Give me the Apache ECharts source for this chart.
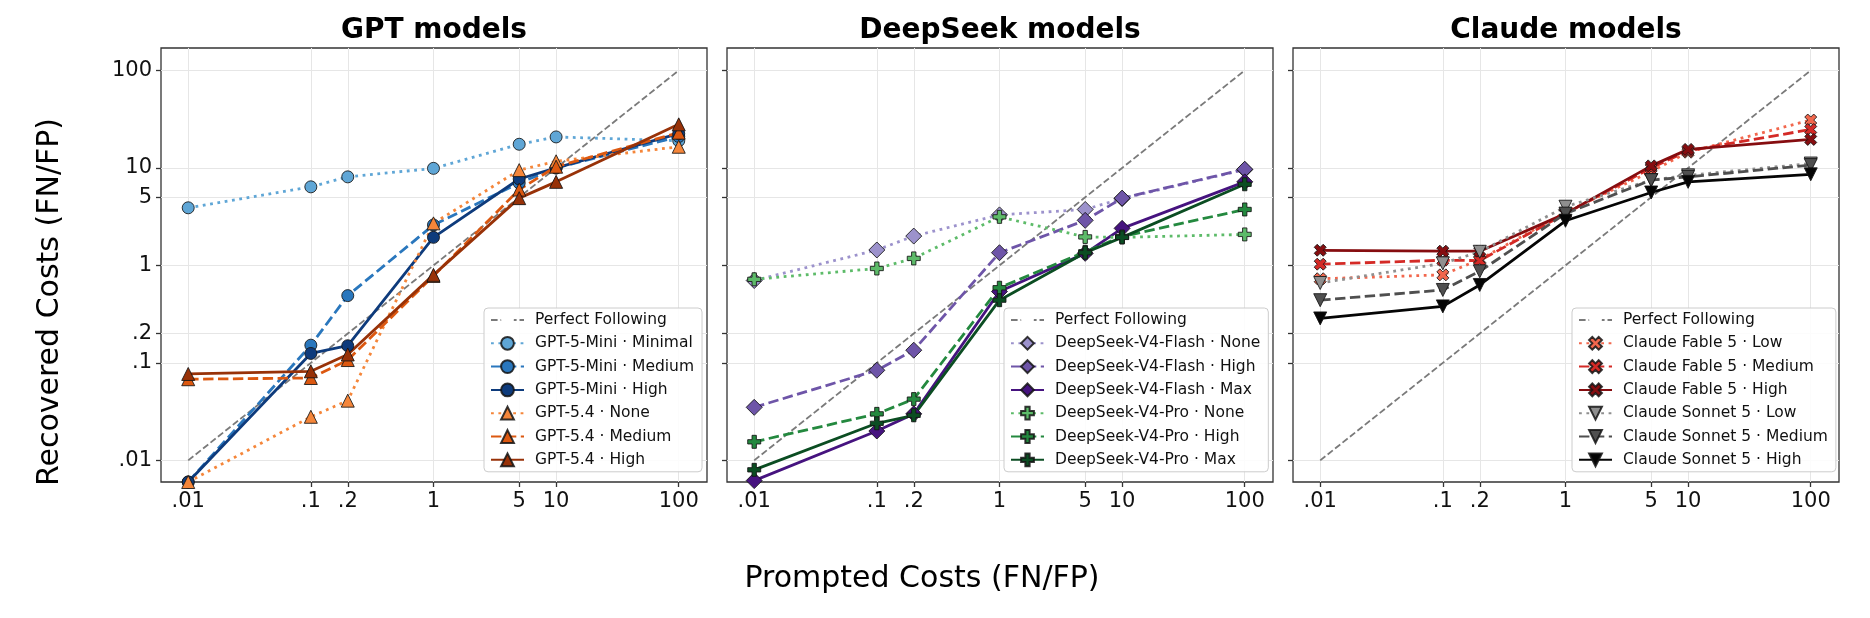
<!DOCTYPE html>
<html>
<head>
<meta charset="utf-8">
<title>Recovered vs prompted costs</title>
<script src="https://cdn.jsdelivr.net/npm/echarts@6.0.0/dist/echarts.min.js"></script>
<style>
  html, body { margin: 0; padding: 0; background: #fff; }
  #chart { width: 1870px; height: 618px; }
</style>
</head>
<body>
<div id="chart"></div>
<script>
// x positions shared by every series
const promptedCosts = [0.01, 0.1, 0.2, 1, 5, 10, 100];
const tickValues = [0.01, 0.1, 0.2, 1, 5, 10, 100];
const tickLabels = ['.01', '.1', '.2', '1', '5', '10', '100'];
const perfectFollowing = [0.01, 0.1, 0.2, 1, 5, 10, 100];
const panelTitles = ['GPT models', 'DeepSeek models', 'Claude models'];

// GPT
const gpt5MiniMinimal = [3.9, 6.4, 8.1, 9.9, 17.5, 20.8, 19.0];
const gpt5MiniMedium = [0.006, 0.152, 0.49, 2.6, 7.0, 10.0, 21.0];
const gpt5MiniHigh = [0.006, 0.125, 0.15, 1.94, 7.7, 10.0, 22.5];
const gpt54None = [0.006, 0.028, 0.041, 2.7, 9.5, 11.7, 16.5];
const gpt54Medium = [0.068, 0.070, 0.107, 0.78, 6.0, 10.3, 23.0];
const gpt54High = [0.077, 0.082, 0.122, 0.80, 4.9, 7.2, 28.0];

// DeepSeek
const flashNone = [0.70, 1.44, 2.0, 3.3, 3.75, 4.85, 9.6];
const flashHigh = [0.035, 0.084, 0.135, 1.35, 2.9, 4.9, 9.7];
const flashMax = [0.0062, 0.020, 0.030, 0.54, 1.33, 2.4, 7.2];
const proNone = [0.72, 0.93, 1.18, 3.15, 1.96, 1.94, 2.08];
const proHigh = [0.0155, 0.030, 0.0425, 0.59, 1.38, 1.98, 3.75];
const proMax = [0.008, 0.024, 0.029, 0.44, 1.35, 1.94, 6.8];

// Claude
const fableLow = [0.73, 0.80, 1.15, 3.5, 9.2, 14.5, 31.0];
const fableMedium = [1.03, 1.13, 1.12, 3.4, 10.0, 15.0, 24.8];
const fableHigh = [1.43, 1.40, 1.40, 3.4, 10.5, 15.5, 19.6];
const sonnetLow = [0.66, 1.05, 1.38, 4.0, 7.5, 8.4, 11.1];
const sonnetMedium = [0.44, 0.56, 0.87, 3.4, 7.5, 8.1, 10.7];
const sonnetHigh = [0.286, 0.38, 0.63, 2.87, 5.6, 7.2, 8.6];

const FONT = '"DejaVu Sans", Verdana, sans-serif';
const LINE_W = 2.8;
const DOTTED = [2.8, 4.6];
const DASHED = [10.4, 4.5];
const SOLID = 'solid';
// filled plus, filled x and a downward triangle, like matplotlib's P, X and v markers
const PLUS = 'path://M1,0H2V1H3V2H2V3H1V2H0V1H1Z';
const CROSS = 'path://M3,0L4,1L3,2L4,3L3,4L2,3L1,4L0,3L1,2L0,1L1,0L2,1Z';
const TRI_DOWN = 'path://M0,0L2,0L1,2Z';
const GRID_LEFT = [161, 727, 1293];
const LEGEND_LEFT = [484, 1004, 1572];

const panels = [
  [
    ['GPT-5-Mini · Minimal', gpt5MiniMinimal, '#5fa6d6', DOTTED, 'circle', 12],
    ['GPT-5-Mini · Medium', gpt5MiniMedium, '#2a77bd', DASHED, 'circle', 12],
    ['GPT-5-Mini · High', gpt5MiniHigh, '#0e3b7c', SOLID, 'circle', 12],
    ['GPT-5.4 · None', gpt54None, '#f5863a', DOTTED, 'triangle', 13],
    ['GPT-5.4 · Medium', gpt54Medium, '#dc5810', DASHED, 'triangle', 13],
    ['GPT-5.4 · High', gpt54High, '#983208', SOLID, 'triangle', 13]
  ],
  [
    ['DeepSeek-V4-Flash · None', flashNone, '#9c92cc', DOTTED, 'diamond', 16],
    ['DeepSeek-V4-Flash · High', flashHigh, '#6e55a8', DASHED, 'diamond', 16],
    ['DeepSeek-V4-Flash · Max', flashMax, '#46137f', SOLID, 'diamond', 16],
    ['DeepSeek-V4-Pro · None', proNone, '#5dbb69', DOTTED, PLUS, 13],
    ['DeepSeek-V4-Pro · High', proHigh, '#24893f', DASHED, PLUS, 13],
    ['DeepSeek-V4-Pro · Max', proMax, '#0b4d22', SOLID, PLUS, 13]
  ],
  [
    ['Claude Fable 5 · Low', fableLow, '#f2674d', DOTTED, CROSS, 12],
    ['Claude Fable 5 · Medium', fableMedium, '#d42a26', DASHED, CROSS, 12],
    ['Claude Fable 5 · High', fableHigh, '#860d10', SOLID, CROSS, 12],
    ['Claude Sonnet 5 · Low', sonnetLow, '#8f8f8f', DOTTED, TRI_DOWN, 13],
    ['Claude Sonnet 5 · Medium', sonnetMedium, '#4f4f4f', DASHED, TRI_DOWN, 13],
    ['Claude Sonnet 5 · High', sonnetHigh, '#050505', SOLID, TRI_DOWN, 13]
  ]
];

function tickLabel(v) {
  for (let i = 0; i < tickValues.length; i++) {
    if (Math.abs(Math.log10(v) - Math.log10(tickValues[i])) < 1e-6) return tickLabels[i];
  }
  return '';
}

function makeAxis(i, showLabel) {
  return {
    type: 'log',
    logBase: 10,
    gridIndex: i,
    min: 0.006,
    max: 170,
    axisLine: { show: false },
    axisTick: { show: true, length: 5, customValues: tickValues, lineStyle: { color: '#333', width: 1.3 } },
    minorTick: { show: false },
    axisLabel: {
      show: showLabel, customValues: tickValues, formatter: tickLabel,
      fontSize: 21, fontFamily: FONT, color: '#111', margin: 9
    },
    splitLine: { show: true, lineStyle: { color: '#e6e6e6', width: 1 } }
  };
}

const grid = [], xAxis = [], yAxis = [], series = [], legend = [], graphic = [];

panels.forEach((rows, i) => {
  grid.push({
    left: GRID_LEFT[i], top: 48, width: 546, height: 434,
    show: true, borderColor: '#333', borderWidth: 1.3, backgroundColor: 'transparent'
  });
  xAxis.push(makeAxis(i, true));
  yAxis.push(makeAxis(i, i === 0));

  series.push({
    name: 'Perfect Following',
    type: 'line',
    xAxisIndex: i, yAxisIndex: i,
    data: promptedCosts.map((x, k) => [x, perfectFollowing[k]]),
    showSymbol: false,
    itemStyle: { color: 'rgba(0,0,0,0)', borderColor: 'rgba(0,0,0,0)' },
    lineStyle: { color: '#7a7a7a', width: 1.8, type: [6.6, 2.9] },
    z: 2
  });

  rows.forEach(([name, values, color, dash, symbol, size]) => {
    series.push({
      name: name,
      type: 'line',
      xAxisIndex: i, yAxisIndex: i,
      data: promptedCosts.map((x, k) => [x, values[k]]),
      symbol: symbol,
      symbolSize: size,
      symbolKeepAspect: true,
      lineStyle: { color: color, width: LINE_W, type: dash },
      itemStyle: { color: color, borderColor: 'rgba(20,20,20,0.85)', borderWidth: 1 },
      z: 3
    });
  });

  legend.push({
    orient: 'vertical',
    left: LEGEND_LEFT[i],
    top: 308,
    data: ['Perfect Following'].concat(rows.map(r => r[0])),
    itemWidth: 33,
    itemHeight: 16,
    itemGap: 7.3,
    padding: [4, 8, 4, 6],
    backgroundColor: 'rgba(255,255,255,0.85)',
    borderColor: '#cccccc',
    borderWidth: 1,
    borderRadius: 4,
    selectedMode: false,
    textStyle: { fontSize: 15.5, fontFamily: FONT, color: '#111', padding: [0, 0, 0, 6] }
  });

  graphic.push({
    type: 'text',
    x: GRID_LEFT[i] + 273, y: 31,
    style: { text: panelTitles[i], font: 'bold 28px ' + FONT, fill: '#000', align: 'center', verticalAlign: 'middle' }
  });
});

graphic.push({
  type: 'text', x: 50, y: 302, rotation: Math.PI / 2,
  style: { text: 'Recovered Costs (FN/FP)', font: '30px ' + FONT, fill: '#000', align: 'center', verticalAlign: 'middle' }
});
graphic.push({
  type: 'text', x: 922, y: 579,
  style: { text: 'Prompted Costs (FN/FP)', font: '30px ' + FONT, fill: '#000', align: 'center', verticalAlign: 'middle' }
});

const chart = echarts.init(document.getElementById('chart'), null, { renderer: 'canvas' });
chart.setOption({
  animation: false,
  backgroundColor: '#fff',
  grid: grid,
  xAxis: xAxis,
  yAxis: yAxis,
  legend: legend,
  series: series,
  graphic: graphic
});
</script>
</body>
</html>
